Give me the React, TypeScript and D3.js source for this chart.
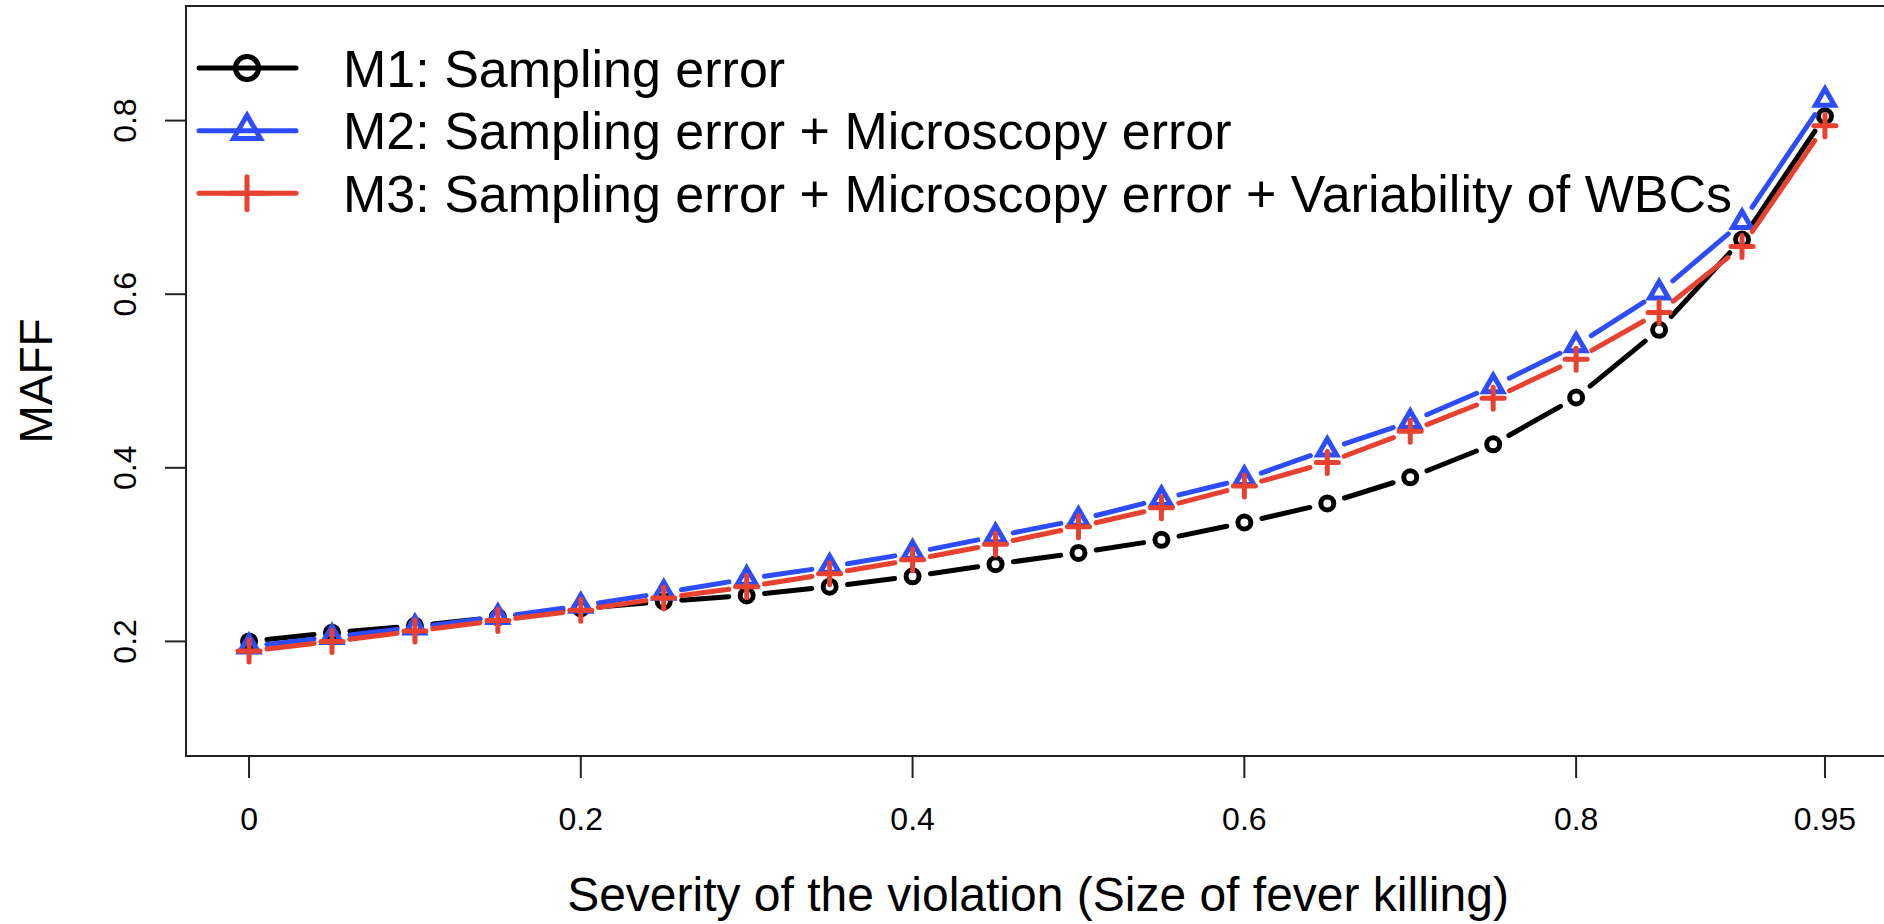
import React from "react";
import * as d3 from "d3";

const severity = [0, 0.05, 0.1, 0.15, 0.2, 0.25, 0.3, 0.35, 0.4, 0.45, 0.5, 0.55, 0.6, 0.65, 0.7, 0.75, 0.8, 0.85, 0.9, 0.95];
const m1Values = [0.200, 0.210, 0.218, 0.228, 0.238, 0.246, 0.253, 0.263, 0.275, 0.289, 0.302, 0.317, 0.337, 0.359, 0.389, 0.427, 0.481, 0.559, 0.663, 0.805];
const m2Values = [0.194, 0.205, 0.216, 0.228, 0.241, 0.256, 0.272, 0.286, 0.302, 0.321, 0.340, 0.364, 0.387, 0.421, 0.453, 0.494, 0.541, 0.602, 0.683, 0.824];
const m3Values = [0.189, 0.200, 0.212, 0.224, 0.236, 0.250, 0.263, 0.278, 0.294, 0.312, 0.332, 0.354, 0.379, 0.406, 0.442, 0.480, 0.525, 0.579, 0.655, 0.794];
const xTicks = [0, 0.2, 0.4, 0.6, 0.8, 0.95];
const xTickLabels = ["0", "0.2", "0.4", "0.6", "0.8", "0.95"];
const yTicks = [0.2, 0.4, 0.6, 0.8];
const yTickLabels = ["0.2", "0.4", "0.6", "0.8"];
const seriesNames = [
  "M1: Sampling error",
  "M2: Sampling error + Microscopy error",
  "M3: Sampling error + Microscopy error + Variability of WBCs",
];
const seriesColors = ["#000000", "#2D4CFB", "#E8412F"];
const seriesShapes = ["circle", "triangle", "plus"];
const xTitle = "Severity of the violation (Size of fever killing)";
const yTitle = "MAFF";

const W = 1884;
const H = 924;
const FONT = "'Liberation Sans', Arial, Helvetica, sans-serif";

const xScale = d3.scaleLinear().domain([-0.038, 0.988]).range([186, 1888]);
const yScale = d3.scaleLinear().domain([0.068, 0.932]).range([756, 6]);

function Marker({ shape, cx, cy, color, big }: { shape: string; cx: number; cy: number; color: string; big?: boolean }) {
  const sw = 5;
  if (shape === "circle") {
    const r = big ? 11.5 : 6.5;
    return <circle cx={cx} cy={cy} r={r} fill="none" stroke={color} strokeWidth={sw} />;
  }
  if (shape === "triangle") {
    const s = big ? 10 : 7;
    const top = 1.555 * s;
    const bot = 0.778 * s;
    const hw = 1.347 * s;
    const d = `M${cx},${cy - top}L${cx + hw},${cy + bot}L${cx - hw},${cy + bot}Z`;
    return <path d={d} fill="none" stroke={color} strokeWidth={sw} strokeLinejoin="miter" />;
  }
  const h = big ? 16.5 : 11;
  return (
    <path
      d={`M${cx - h},${cy}L${cx + h},${cy}M${cx},${cy - h}L${cx},${cy + h}`}
      fill="none"
      stroke={color}
      strokeWidth={sw}
      strokeLinecap="round"
    />
  );
}

function gappedSegments(pts: [number, number][], gap: number): string {
  let d = "";
  for (let i = 0; i < pts.length - 1; i++) {
    const [x0, y0] = pts[i];
    const [x1, y1] = pts[i + 1];
    const dx = x1 - x0;
    const dy = y1 - y0;
    const len = Math.sqrt(dx * dx + dy * dy);
    if (len <= 2 * gap) continue;
    const ux = dx / len;
    const uy = dy / len;
    d += `M${x0 + ux * gap},${y0 + uy * gap}L${x1 - ux * gap},${y1 - uy * gap}`;
  }
  return d;
}

export default function App() {
  const allSeries = [m1Values, m2Values, m3Values];
  const legendRows = [68, 130.7, 193.3];
  return (
    <svg
      width={W}
      height={H}
      style={{ position: "absolute", left: 0, top: 0, background: "#fff" }}
      fontFamily={FONT}
    >
      <rect x={0} y={0} width={W} height={H} fill="#fff" />
      {/* plot box */}
      <rect
        x={xScale.range()[0]}
        y={yScale.range()[1]}
        width={xScale.range()[1] - xScale.range()[0]}
        height={yScale.range()[0] - yScale.range()[1]}
        fill="none"
        stroke="#222"
        strokeWidth={2}
      />
      {/* x axis ticks */}
      {xTicks.map((t, i) => (
        <g key={"xt" + i}>
          <line x1={xScale(t)} x2={xScale(t)} y1={756} y2={778} stroke="#222" strokeWidth={2} />
          <text x={xScale(t)} y={830} fontSize={32} textAnchor="middle" fill="#000">
            {xTickLabels[i]}
          </text>
        </g>
      ))}
      {/* y axis ticks */}
      {yTicks.map((t, i) => (
        <g key={"yt" + i}>
          <line x1={165} x2={186} y1={yScale(t)} y2={yScale(t)} stroke="#222" strokeWidth={2} />
          <text
            transform={`translate(135.5,${yScale(t)}) rotate(-90)`}
            fontSize={32}
            textAnchor="middle"
            fill="#000"
          >
            {yTickLabels[i]}
          </text>
        </g>
      ))}
      {/* axis titles */}
      <text x={1038} y={911} fontSize={48} textAnchor="middle" fill="#000">
        {xTitle}
      </text>
      <text transform={`translate(52,381) rotate(-90)`} fontSize={46} textAnchor="middle" fill="#000">
        {yTitle}
      </text>
      {/* series */}
      {allSeries.map((vals, si) => {
        const pts: [number, number][] = vals.map((v, i) => [xScale(severity[i]), yScale(v)]);
        return (
          <g key={"s" + si}>
            <path
              d={gappedSegments(pts, 18)}
              fill="none"
              stroke={seriesColors[si]}
              strokeWidth={5}
              strokeLinecap="round"
            />
            {pts.map((p, i) => (
              <Marker key={i} shape={seriesShapes[si]} cx={p[0]} cy={p[1]} color={seriesColors[si]} />
            ))}
          </g>
        );
      })}
      {/* legend */}
      {seriesNames.map((name, i) => (
        <g key={"lg" + i}>
          <line x1={199} x2={296} y1={legendRows[i]} y2={legendRows[i]} stroke={seriesColors[i]} strokeWidth={5} strokeLinecap="round" />
          <Marker shape={seriesShapes[i]} cx={247} cy={legendRows[i]} color={seriesColors[i]} big />
          <text x={343} y={legendRows[i] + 18.5} fontSize={52} fill="#000">
            {name}
          </text>
        </g>
      ))}
    </svg>
  );
}
